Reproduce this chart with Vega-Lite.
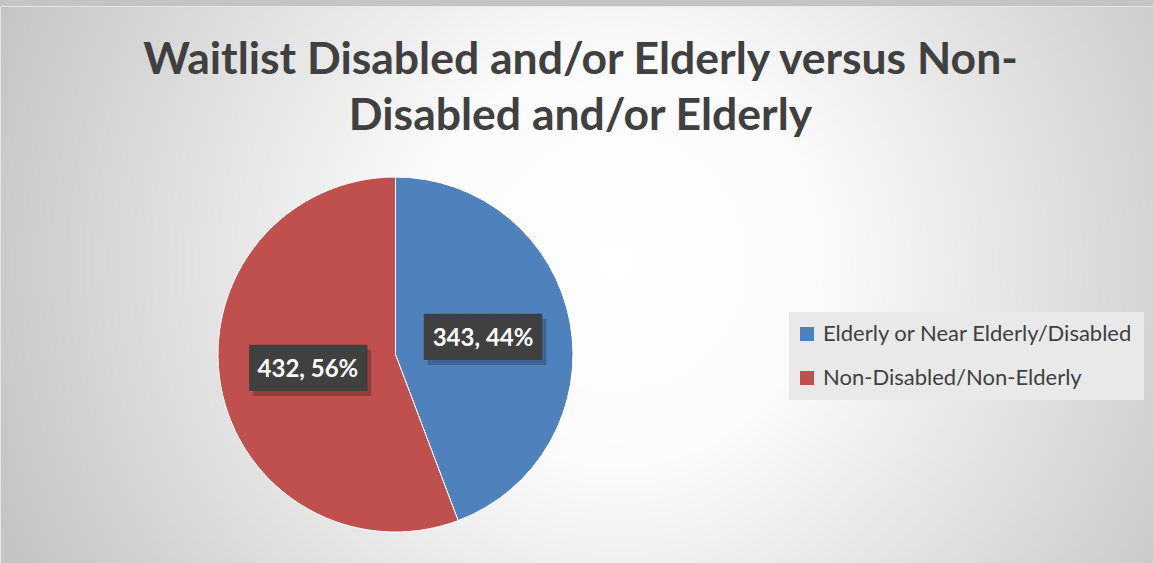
{
  "$schema": "https://vega.github.io/schema/vega-lite/v6.json",
  "width": 1153,
  "height": 557,
  "autosize": {"type": "none"},
  "padding": {"top": 6, "left": 0, "right": 0, "bottom": 0},
  "background": "#c4c4c4",
  "view": {
    "fill": {
      "gradient": "radial",
      "x1": 0.535, "y1": 0.48, "r1": 0,
      "x2": 0.535, "y2": 0.48, "r2": 0.58,
      "stops": [
        {"offset": 0, "color": "#ffffff"},
        {"offset": 0.3, "color": "#fbfbfb"},
        {"offset": 0.6, "color": "#e4e4e4"},
        {"offset": 1, "color": "#c4c4c4"}
      ]
    },
    "stroke": "#e6e6e6",
    "strokeWidth": 1
  },
  "title": {
    "text": ["Waitlist Disabled and/or Elderly versus Non-", "Disabled and/or Elderly"],
    "orient": "top",
    "anchor": "middle",
    "frame": "group",
    "offset": -133,
    "font": "Lato",
    "fontSize": 44.5,
    "fontWeight": "bold",
    "color": "#404040",
    "lineHeight": 56,
    "dx": 4
  },
  "data": {
    "values": [
      {"category": "Elderly or Near Elderly/Disabled", "value": 343, "label": "343, 44%"},
      {"category": "Non-Disabled/Non-Elderly", "value": 432, "label": "432, 56%"}
    ]
  },
  "encoding": {
    "theta": {"field": "value", "type": "quantitative", "stack": true}
  },
  "layer": [
    {
      "mark": {
        "type": "arc",
        "x": {"expr": "width*0.343"},
        "y": {"expr": "height*0.6257"},
        "outerRadius": 177.5,
        "stroke": "#ffffff",
        "strokeWidth": 1
      },
      "encoding": {
        "color": {
          "field": "category",
          "type": "nominal",
          "scale": {
            "domain": ["Elderly or Near Elderly/Disabled", "Non-Disabled/Non-Elderly"],
            "range": ["#4f81bd", "#c0504d"]
          },
          "legend": {
            "orient": "none",
            "legendX": 789,
            "legendY": 306,
            "title": null,
            "symbolType": "square",
            "symbolSize": 196,
            "symbolStrokeWidth": 0,
            "symbolOffset": -4,
            "labelFont": "Lato",
            "labelFontSize": 22,
            "labelColor": "#404040",
            "labelOffset": 5,
            "labelLimit": 0,
            "rowPadding": 22,
            "padding": 11,
            "fillColor": "#e9e9e9"
          }
        }
      }
    },
    {
      "mark": {
        "type": "text",
        "x": {"expr": "width*0.343"},
        "y": {"expr": "height*0.6257"},
        "radius": 89,
        "text": "█████",
        "font": "DejaVu Sans Mono",
        "fontSize": 39,
        "color": "#000000",
        "opacity": 0.22,
        "dx": 4,
        "dy": 4
      },
      "encoding": {"detail": {"field": "category"}}
    },
    {
      "mark": {
        "type": "text",
        "x": {"expr": "width*0.343"},
        "y": {"expr": "height*0.6257"},
        "radius": 89,
        "text": "█████",
        "font": "DejaVu Sans Mono",
        "fontSize": 39,
        "color": "#404040",
        "dy": -1
      },
      "encoding": {"detail": {"field": "category"}}
    },
    {
      "mark": {
        "type": "text",
        "x": {"expr": "width*0.343"},
        "y": {"expr": "height*0.6257"},
        "radius": 89,
        "font": "Lato",
        "fontSize": 24,
        "fontWeight": "bold",
        "color": "#ffffff"
      },
      "encoding": {
        "detail": {"field": "category"},
        "text": {"field": "label"}
      }
    }
  ]
}
